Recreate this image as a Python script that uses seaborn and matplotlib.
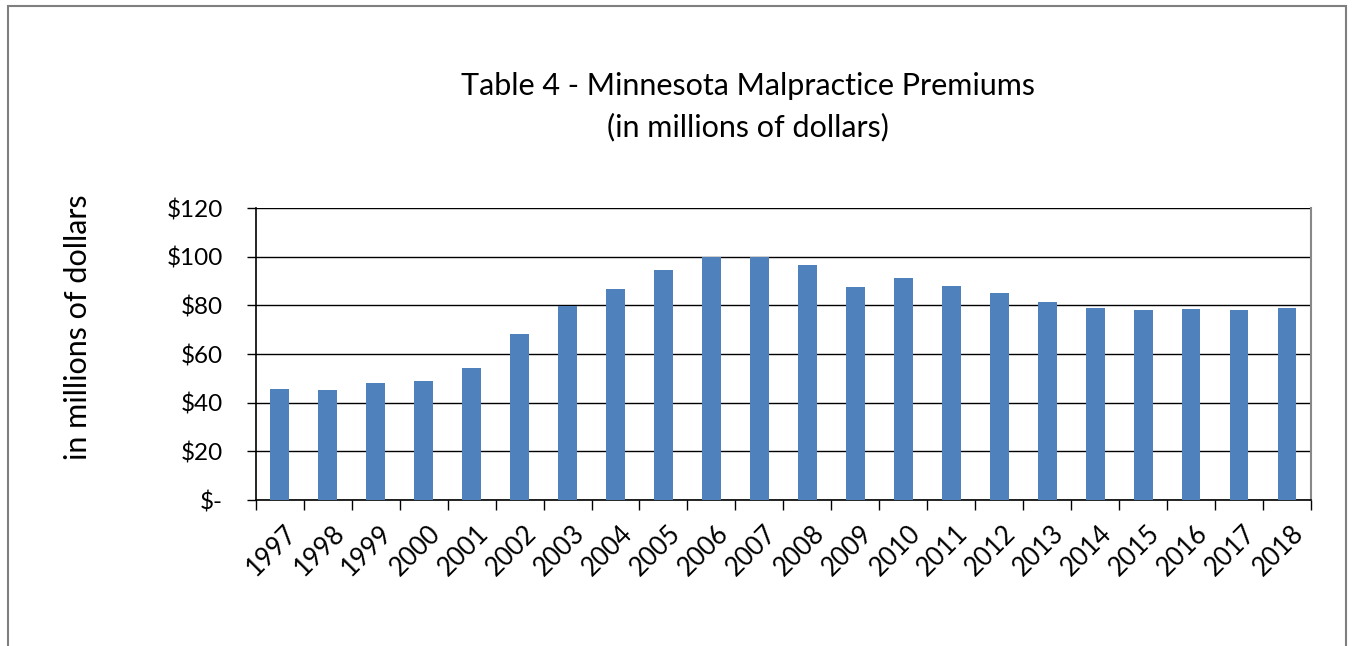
import numpy as np
import pandas as pd
import matplotlib
matplotlib.use('Agg')
import matplotlib.pyplot as plt
import seaborn as sns
from matplotlib.ticker import FuncFormatter, FixedLocator
from matplotlib.patches import Rectangle
from matplotlib.transforms import ScaledTranslation

years = [str(y) for y in range(1997, 2019)]
premiums = [45.5, 45.4, 48.0, 48.8, 54.2, 68.2, 79.8, 86.8, 94.6, 100.0, 99.9,
            96.6, 87.4, 91.4, 87.8, 84.9, 81.5, 79.0, 78.2, 78.6, 77.9, 78.9]

df = pd.DataFrame({'year': years, 'premium': premiums})

sns.set_style('white')
plt.rcParams['font.family'] = ['Lato', 'DejaVu Sans']
plt.rcParams['text.color'] = 'black'
plt.rcParams['xtick.color'] = 'black'
plt.rcParams['ytick.color'] = 'black'

fig = plt.figure(figsize=(13.53, 6.46), dpi=100)
ax = fig.add_axes([0.189, 0.226, 0.78, 0.452])

sns.barplot(data=df, x='year', y='premium', color='#4F81BD', saturation=1,
            width=0.39, edgecolor='none', ax=ax, zorder=3)

ax.set_xlim(-0.5, len(years) - 0.5)
ax.set_ylim(0, 120)
ax.set_yticks(np.arange(0, 121, 20))
ax.yaxis.set_major_formatter(FuncFormatter(lambda v, p: '$-' if v == 0 else f'${int(v)}'))
ax.grid(axis='y', color='black', linewidth=1, zorder=0)
ax.set_axisbelow(True)

# tick marks between categories, labels at centres
ax.xaxis.set_minor_locator(FixedLocator(np.arange(-0.5, len(years), 1)))
ax.tick_params(axis='x', which='major', length=0, labelsize=18.5, pad=15)
ax.tick_params(axis='x', which='minor', length=7, width=1, color='black', direction='out', bottom=True)
ax.tick_params(axis='y', which='major', length=6.5, width=1, color='black', direction='out',
               left=True, labelsize=17.5, pad=17)
shift = ScaledTranslation(4 / 100, 0, fig.dpi_scale_trans)
for lbl in ax.get_xticklabels():
    lbl.set_rotation(45)
    lbl.set_ha('right')
    lbl.set_rotation_mode('anchor')
    lbl.set_transform(lbl.get_transform() + shift)

for s in ['left', 'bottom']:
    ax.spines[s].set_color('black')
    ax.spines[s].set_linewidth(1.2)
ax.spines['right'].set_color('#888888')
ax.spines['right'].set_linewidth(1.5)
ax.spines['top'].set_visible(False)

ax.set_xlabel('')
ax.set_ylabel('')
fig.text(0.058, 0.494, 'in millions of dollars', rotation=90, ha='center', va='center', fontsize=22)
fig.text(0.553, 0.867, 'Table 4 - Minnesota Malpractice Premiums', ha='center', va='center', fontsize=22)
fig.text(0.553, 0.803, '(in millions of dollars)', ha='center', va='center', fontsize=22)

# outer chart border
fig.patches.append(Rectangle((0.006, -0.05), 0.989, 1.04, transform=fig.transFigure,
                             fill=False, edgecolor='#7f7f7f', linewidth=1.5))

fig.savefig('out.png', dpi=100)
